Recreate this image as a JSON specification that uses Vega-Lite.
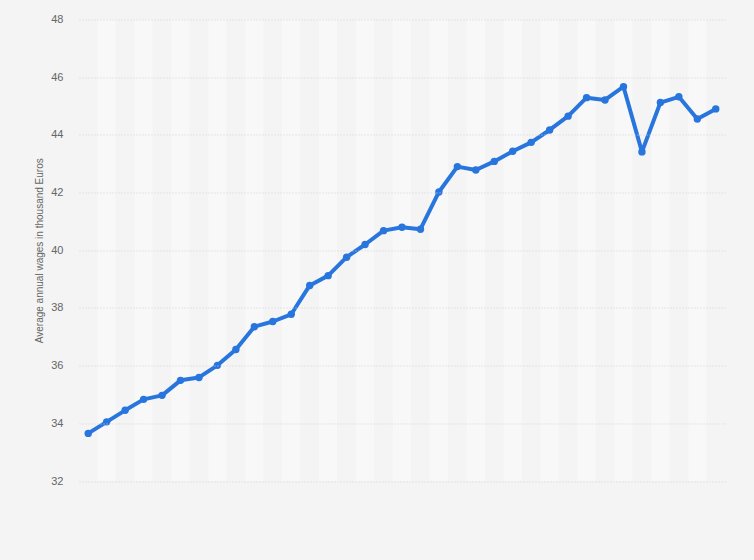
{
  "$schema": "https://vega.github.io/schema/vega-lite/v6.json",
  "autosize": "none",
  "width": 646,
  "height": 461.5,
  "padding": {"left": 79, "top": 19.5, "right": 29, "bottom": 79},
  "background": "#f4f4f4",
  "config": {
    "view": {"stroke": null},
    "font": "Liberation Sans"
  },
  "data": {
    "values": [
      {"year": 1990, "wage": 33.65},
      {"year": 1991, "wage": 34.05},
      {"year": 1992, "wage": 34.45},
      {"year": 1993, "wage": 34.83},
      {"year": 1994, "wage": 34.97},
      {"year": 1995, "wage": 35.49},
      {"year": 1996, "wage": 35.59},
      {"year": 1997, "wage": 36.01},
      {"year": 1998, "wage": 36.56},
      {"year": 1999, "wage": 37.35},
      {"year": 2000, "wage": 37.53},
      {"year": 2001, "wage": 37.78},
      {"year": 2002, "wage": 38.78},
      {"year": 2003, "wage": 39.12},
      {"year": 2004, "wage": 39.76},
      {"year": 2005, "wage": 40.2},
      {"year": 2006, "wage": 40.68},
      {"year": 2007, "wage": 40.8},
      {"year": 2008, "wage": 40.73},
      {"year": 2009, "wage": 42.02},
      {"year": 2010, "wage": 42.9},
      {"year": 2011, "wage": 42.78},
      {"year": 2012, "wage": 43.08},
      {"year": 2013, "wage": 43.43},
      {"year": 2014, "wage": 43.74},
      {"year": 2015, "wage": 44.17},
      {"year": 2016, "wage": 44.65},
      {"year": 2017, "wage": 45.29},
      {"year": 2018, "wage": 45.21},
      {"year": 2019, "wage": 45.67},
      {"year": 2020, "wage": 43.41},
      {"year": 2021, "wage": 45.12},
      {"year": 2022, "wage": 45.32},
      {"year": 2023, "wage": 44.55},
      {"year": 2024, "wage": 44.9}
    ]
  },
  "encoding": {
    "x": {
      "field": "year",
      "type": "ordinal",
      "axis": null,
      "scale": {"type": "band", "paddingInner": 0, "paddingOuter": 0}
    }
  },
  "layer": [
    {
      "mark": {"type": "rect"},
      "encoding": {
        "color": {
          "condition": {"test": "datum.year % 2 == 1", "value": "#f8f8f8"},
          "value": "#f4f4f4"
        }
      }
    },
    {
      "mark": {"type": "line", "color": "#2876dd", "strokeWidth": 4, "strokeJoin": "round"},
      "encoding": {
        "y": {
          "field": "wage",
          "type": "quantitative",
          "scale": {"domain": [32, 48], "zero": false},
          "axis": {
            "zindex": 1,
            "values": [32, 34, 36, 38, 40, 42, 44, 46, 48],
            "title": "Average annual wages in thousand Euros",
            "titleFont": "Liberation Sans",
            "titleFontSize": 10,
            "titleFontWeight": "normal",
            "titleColor": "#666666",
            "titlePadding": 6,
            "labelFontSize": 11,
            "labelColor": "#666666",
            "labelPadding": 16,
            "domain": false,
            "ticks": false,
            "grid": true,
            "gridColor": "#d2d2d2",
            "gridDash": [1, 2],
            "gridWidth": 1
          }
        }
      }
    },
    {
      "mark": {"type": "point", "filled": true, "opacity": 1, "color": "#2876dd", "size": 55},
      "encoding": {
        "y": {"field": "wage", "type": "quantitative"}
      }
    }
  ]
}
